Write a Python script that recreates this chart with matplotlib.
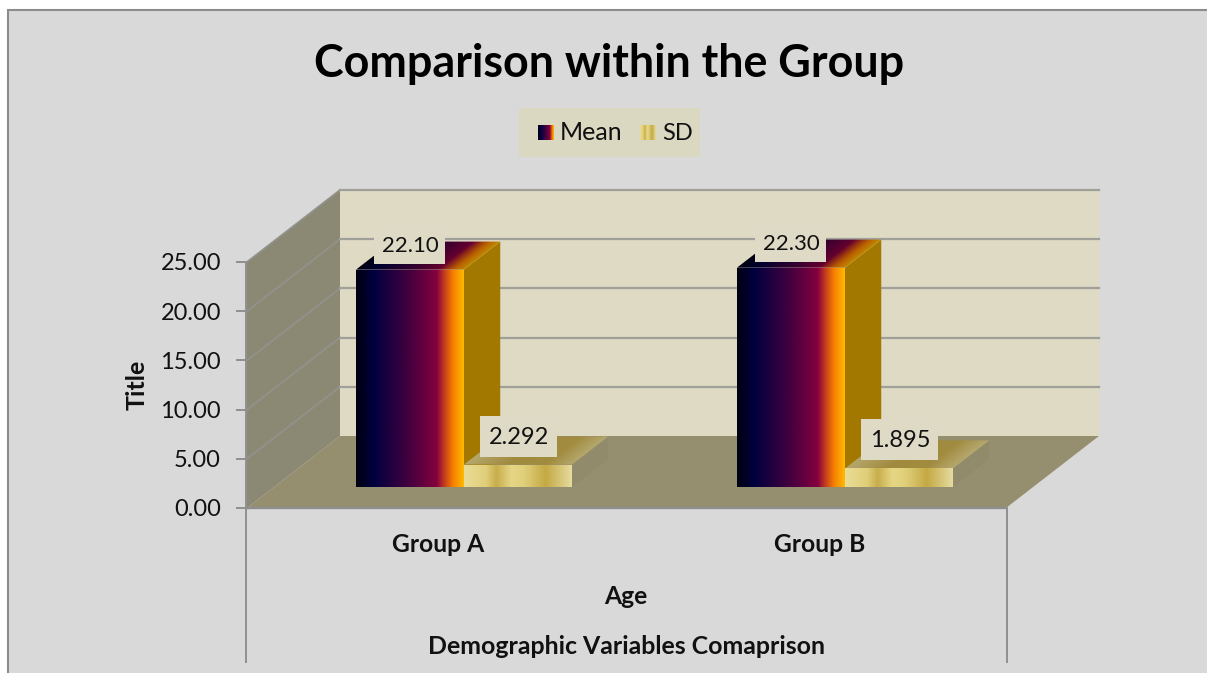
import matplotlib

matplotlib.use("Agg")
import numpy as np
from matplotlib import pyplot as plt
from matplotlib.colors import LinearSegmentedColormap
from matplotlib.patches import Polygon, Rectangle

plt.rcParams["font.family"] = ["Lato", "DejaVu Sans"]

groups = ["Group A", "Group B"]
mean_values = [22.10, 22.30]
sd_values = [2.292, 1.895]
mean_labels = ["22.10", "22.30"]
sd_labels = ["2.292", "1.895"]
y_ticks = [0, 5, 10, 15, 20, 25]
y_tick_labels = ["0.00", "5.00", "10.00", "15.00", "20.00", "25.00"]

BG = "#d9d9d9"
WALL = "#dfdac3"
SIDE = "#8b8873"
FLOOR = "#958f70"
GRID = "#a0a09a"
SIDE_GRID = "#92928c"
AXIS = "#8f8f8f"
LABEL_BOX = "#dedac5"

mean_cmap = LinearSegmentedColormap.from_list(
    "mean_fill",
    [(0, "#000010"), (0.16, "#00003f"), (0.5, "#45003f"), (0.75, "#85003f"),
     (0.82, "#c23c1e"), (0.9, "#f77f00"), (1, "#ffb800")],
)
mean_top_cmap = LinearSegmentedColormap.from_list(
    "mean_top",
    [(0, "#000010"), (0.16, "#00002f"), (0.5, "#33002f"), (0.75, "#64002f"),
     (0.82, "#922d16"), (0.9, "#b96000"), (1, "#bf8a00")],
)
sd_cmap = LinearSegmentedColormap.from_list(
    "sd_fill",
    [(0, "#e9dc96"), (0.2, "#e0cf7a"), (0.3, "#c8ae4c"), (0.44, "#e6d685"),
     (0.56, "#e0cf7a"), (0.76, "#c4a944"), (1, "#e6dca0")],
)
sd_top_cmap = LinearSegmentedColormap.from_list(
    "sd_top", [(0, "#b5a76c"), (0.4, "#a08a3e"), (0.75, "#a28c40"), (1, "#b5a86e")]
)

# oblique projection of the chart box onto the canvas
PLOT_LEFT, PLOT_RIGHT = 247, 1006
BASE_Y = 508
UNIT = (508 - 262) / 25
DEPTH_X, DEPTH_Y = 93, 72
BAR_W = 108
FIRST_BAR = 329
GROUP_PITCH = 381
BAR_FRONT, BAR_BACK = 0.29, 0.68


def project(x, value, depth=0.0):
    return x + depth * DEPTH_X, BASE_Y - value * UNIT - depth * DEPTH_Y


def shaded(ax, corners, cmap, zorder, shear=None):
    # gradient image clipped to a face outline, shear follows the slanted top faces
    pts = np.array(corners)
    x0, x1 = pts[:, 0].min(), pts[:, 0].max()
    y0, y1 = pts[:, 1].min(), pts[:, 1].max()
    xs = np.linspace(x0, x1, 400)
    ys = np.linspace(y0, y1, 100)
    xx, yy = np.meshgrid(xs, ys)
    if shear is None:
        grad = (xx - x0) / (x1 - x0)
    else:
        left, width = shear
        grad = (xx - left - (y1 - yy) * DEPTH_X / DEPTH_Y) / width
    im = ax.imshow(np.clip(grad, 0, 1), cmap=cmap, vmin=0, vmax=1,
                   extent=(x0, x1, y1, y0), aspect="auto", zorder=zorder,
                   interpolation="bilinear")
    clip = Polygon(corners, closed=True, transform=ax.transData, fc="none", ec="none")
    ax.add_patch(clip)
    im.set_clip_path(clip)


def bar3d(ax, left, value, cmap, side, top_cmap, zorder):
    right = left + BAR_W
    fl = project(left, 0, BAR_FRONT)
    fr = project(right, 0, BAR_FRONT)
    tl = project(left, value, BAR_FRONT)
    tr = project(right, value, BAR_FRONT)
    bl = project(left, value, BAR_BACK)
    br = project(right, value, BAR_BACK)
    br0 = project(right, 0, BAR_BACK)
    ax.add_patch(Polygon([fr, tr, br, br0], closed=True, fc=side, ec="none", zorder=zorder))
    shaded(ax, [tl, tr, br, bl], top_cmap, zorder + 0.1, shear=(tl[0], BAR_W))
    shaded(ax, [fl, fr, tr, tl], cmap, zorder + 0.2)


def value_label(ax, cx, cy, text, width, height, size):
    ax.add_patch(Rectangle((cx - width / 2, cy - height / 2), width, height,
                           fc=LABEL_BOX, ec="none", zorder=8))
    ax.text(cx, cy + 1, text, ha="center", va="center", fontsize=size,
            color="#111111", zorder=9)


fig = plt.figure(figsize=(12.07, 6.73), dpi=100, facecolor="white")
ax = fig.add_axes([0, 0, 1, 1])
ax.set_xlim(0, 1207)
ax.set_ylim(673, 0)
ax.axis("off")

# chart area, only its left and top edges are inside the canvas
ax.add_patch(Rectangle((8, 10), 1199, 663, fc=BG, ec="none", zorder=0))
ax.plot([8, 8, 1207], [673, 10, 10], color="#8c8c8c", lw=1.5, zorder=1,
        solid_joinstyle="miter")

# walls and floor
ax.add_patch(Polygon([project(PLOT_LEFT, 0, 1), project(PLOT_RIGHT, 0, 1),
                      project(PLOT_RIGHT, 25, 1), project(PLOT_LEFT, 25, 1)],
                     closed=True, fc=WALL, ec="none", zorder=2))
ax.add_patch(Polygon([project(PLOT_LEFT, 0), project(PLOT_LEFT, 0, 1),
                      project(PLOT_LEFT, 25, 1), project(PLOT_LEFT, 25)],
                     closed=True, fc=SIDE, ec="none", zorder=2))
ax.add_patch(Polygon([project(PLOT_LEFT, 0), project(PLOT_RIGHT, 0),
                      project(PLOT_RIGHT, 0, 1), project(PLOT_LEFT, 0, 1)],
                     closed=True, fc=FLOOR, ec="none", zorder=2))

# gridlines run along the side wall and the back wall
for v in y_ticks[1:]:
    p0, p1, p2 = project(PLOT_LEFT, v), project(PLOT_LEFT, v, 1), project(PLOT_RIGHT, v, 1)
    ax.plot([p0[0], p1[0]], [p0[1], p1[1]], color=SIDE_GRID, lw=1.3, zorder=3)
    ax.plot([p1[0], p2[0]], [p1[1], p2[1]], color=GRID, lw=1.6, zorder=3)

# axes, ticks and tick labels
ax.plot([246, 246], [262, 662], color=AXIS, lw=1.4, zorder=4)
ax.plot([PLOT_LEFT, PLOT_RIGHT], [BASE_Y, BASE_Y], color=AXIS, lw=1.7, zorder=4)
ax.plot([1007, 1007], [BASE_Y, 662], color=AXIS, lw=1.4, zorder=4)
for v, lab in zip(y_ticks, y_tick_labels):
    x, y = project(PLOT_LEFT, v)
    ax.plot([x - 10, x], [y, y], color=AXIS, lw=1.4, zorder=4)
    ax.text(x - 26, y + 2, lab, ha="right", va="center", fontsize=17, color="#111111", zorder=6)

# bars, Mean next to SD inside each group; SD sits in front of the Mean side face
for i, name in enumerate(groups):
    start = FIRST_BAR + i * GROUP_PITCH
    bar3d(ax, start, mean_values[i], mean_cmap, "#a37800", mean_top_cmap, 5)
    bar3d(ax, start + BAR_W, sd_values[i], sd_cmap, "#918b6c", sd_top_cmap, 5.5)

    cx, cy = project(start + BAR_W / 2, mean_values[i], BAR_FRONT)
    value_label(ax, cx, cy - 25, mean_labels[i], 71, 38, 16)
    cx, cy = project(start + 1.5 * BAR_W, sd_values[i], BAR_FRONT)
    value_label(ax, cx + 1, cy - 28.5, sd_labels[i], 77, 41, 17)

    ax.text(start + 109.5, 544, name, ha="center", va="center",
            fontsize=17.7, fontweight="bold", color="#111111", zorder=6)

ax.text(626, 596, "Age", ha="center", va="center", fontsize=17.7, fontweight="bold", color="#111111")
ax.text(626, 647, "Demographic Variables Comaprison", ha="center", va="center",
        fontsize=17.9, fontweight="bold", color="#111111")
ax.text(137, 385, "Title", rotation=90, ha="center", va="center", fontsize=18,
        fontweight="bold", color="#111111")
ax.text(609, 64, "Comparison within the Group", ha="center", va="center",
        fontsize=32.3, fontweight="bold", color="#000000")

# legend
ax.add_patch(Rectangle((519, 108), 181, 49, fc="#dbd8c2", ec="none", zorder=4))
shaded(ax, [(538, 125), (554, 125), (554, 140), (538, 140)], mean_cmap, 5)
shaded(ax, [(640, 125), (656, 125), (656, 140), (640, 140)], sd_cmap, 5)
ax.text(560, 133, "Mean", ha="left", va="center", fontsize=18, color="#111111", zorder=6)
ax.text(662, 133, "SD", ha="left", va="center", fontsize=17, color="#111111", zorder=6)

ax.set_xlim(0, 1207)
ax.set_ylim(673, 0)
fig.savefig("out.png", dpi=100, facecolor="white")
